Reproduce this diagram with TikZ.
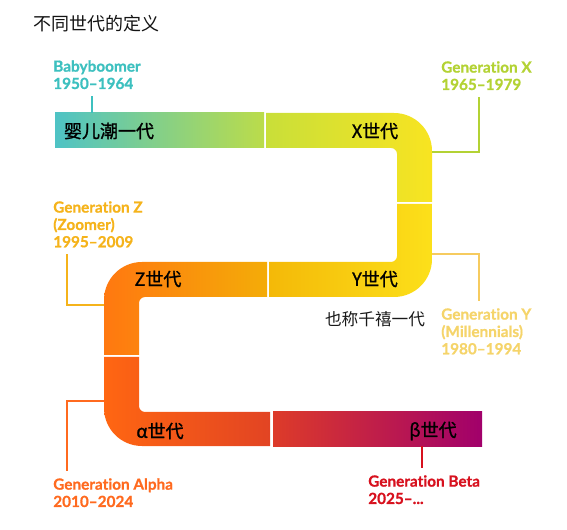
\documentclass[tikz,border=0pt]{standalone}
\usepackage{fontspec}
\setmainfont{Lato}[Ligatures=NoCommon, BoldFeatures={FakeBold=0.8}]
\newfontfamily\cjk{Noto Sans CJK SC}
\newfontfamily\cjkmed[FakeBold=1.2]{Noto Sans CJK SC}
\usepackage{tikz}
\usetikzlibrary{calc}
% Balkenfarben (links / rechts)
\definecolor{clrBoomA}{HTML}{4EC3C5}
\definecolor{clrBoomB}{HTML}{BBDC4A}
\definecolor{clrXa}{HTML}{C9DF39}
\definecolor{clrXb}{HTML}{F8E421}
\definecolor{clrYa}{HTML}{F4B908}
\definecolor{clrYb}{HTML}{FCE01A}
\definecolor{clrZa}{HTML}{FF7810}
\definecolor{clrZb}{HTML}{F4AC08}
\definecolor{clrAa}{HTML}{FF6612}
\definecolor{clrAb}{HTML}{E24423}
\definecolor{clrBa}{HTML}{DD3B29}
\definecolor{clrBb}{HTML}{A1006B}
% Textfarben
\definecolor{txtBoom}{HTML}{3DC0BF}
\definecolor{txtX}{HTML}{B3D234}
\definecolor{txtY}{HTML}{F5D46A}
\definecolor{txtZ}{HTML}{F5B31B}
\definecolor{txtA}{HTML}{FF6A1F}
\definecolor{txtB}{HTML}{D7111E}
\tikzset{
  genlabel/.style={anchor=north west, inner sep=0pt, align=left,
    font=\fontsize{11.5}{13}\selectfont\bfseries},
  barlabel/.style={inner sep=0pt, text=black,
    font=\fontsize{13.5}{15}\selectfont\cjkmed},
  note/.style={inner sep=0pt, text=black!90,
    font=\fontsize{12.5}{14}\selectfont\cjk},
  title/.style={anchor=west, inner sep=0pt, text=black!92,
    font=\fontsize{13.5}{15}\selectfont\cjk},
  link/.style={line width=1pt, shorten >=5pt},
}

\begin{document}
\begin{tikzpicture}[x=0.75pt, y=-0.75pt]

\useasboundingbox (0,0) rectangle (567,530);

\def\yTa{113} \def\yTb{148}  % oberer Balken
\def\yMa{262} \def\yMb{297}  % mittlerer Balken
\def\yUa{412} \def\yUb{446}  % unterer Balken
\def\xRa{397} \def\xRb{432}  % rechte Kurve
\def\xLa{104} \def\xLb{139}  % linke Kurve

\node[title] (ttl) at (33,24) {不同世代的定义};

% Band aus sechs Abschnitten, dazwischen schmale weisse Fugen
\shade[left color=clrBoomA, right color=clrBoomB]
  (55,\yTa) rectangle (264,\yTb);
\shade[left color=clrXa, right color=clrXb]
  (266,\yTa) -- (394,\yTa) .. controls (415,\yTa) and (\xRb,130) .. (\xRb,151)
  -- (\xRb,202) -- (\xRa,202) -- (\xRa,154)
  .. controls (\xRa,150.7) and (394.3,\yTb) .. (391,\yTb) -- (266,\yTb) -- cycle;
\shade[left color=clrYa, right color=clrYb]
  (\xRb,204) -- (\xRb,259) .. controls (\xRb,280) and (415,\yMb) .. (394,\yMb)
  -- (269,\yMb) -- (269,\yMa) -- (391,\yMa)
  .. controls (394.3,\yMa) and (\xRa,259.3) .. (\xRa,256) -- (\xRa,204) -- cycle;
\shade[left color=clrZa, right color=clrZb]
  (267,\yMa) -- (142,\yMa) .. controls (121,\yMa) and (\xLa,279) .. (\xLa,300)
  -- (\xLa,355) -- (\xLb,355) -- (\xLb,303)
  .. controls (\xLb,299.7) and (141.7,\yMb) .. (145,\yMb) -- (267,\yMb) -- cycle;
\shade[left color=clrAa, right color=clrAb]
  (\xLa,357) -- (\xLa,408) .. controls (\xLa,429) and (121,\yUb) .. (142,\yUb)
  -- (270,\yUb) -- (270,\yUa) -- (145,\yUa)
  .. controls (141.7,\yUa) and (\xLb,409.3) .. (\xLb,406) -- (\xLb,357) -- cycle;
\shade[left color=clrBa, right color=clrBb]
  (273,\yUa) rectangle (482,\yUb);

\node[barlabel] (tBoom) at (109,131) {婴儿潮一代};
\node[barlabel] (tX) at (375,131) {X世代};
\node[barlabel] (tY) at (375,279) {Y世代};
\node[barlabel] (tZ) at (158,279) {Z世代};
\node[barlabel] (tA) at (160,431) {α世代};
\node[barlabel] (tB) at (433,431) {β世代};
\node[note] (mill) at (375,319) {也称千禧一代};

% Beschriftungen
\node[genlabel, text=txtBoom] (bb) at (53,60) {Babyboomer\\1950–1964};
\node[genlabel, text=txtX] (genX) at (441,61) {Generation X\\1965–1979};
\node[genlabel, text=txtY] (genY) at (441,308)
  {Generation Y\\(Millennials)\\1980–1994};
\node[genlabel, text=txtZ] (genZ) at (53,201)
  {Generation Z\\(Zoomer)\\1995–2009};
\node[genlabel, text=txtA] (genA) at (53,478) {Generation Alpha\\2010–2024};
\node[genlabel, text=txtB] (genB) at (368,475) {Generation Beta\\2025–...};

% Andockpunkte am Band
\coordinate (pBB) at (92,\yTa);
\coordinate (pX) at (\xRb,152);
\coordinate (pY) at (\xRb,254);
\coordinate (pZ) at (\xLa,305);
\coordinate (pA) at (\xLa,401);
\coordinate (pB) at (422,\yUb);

\draw[link, txtBoom] (pBB) -- (pBB |- bb.south);
\draw[link, txtX] (pX) -| ($(genX.south west)+(38,0)$);
\draw[link, txtY!90!orange] (pY) -| ($(genY.north west)+(38,0)$);
\draw[link, txtZ] (pZ) -| ($(genZ.south west)+(14,0)$);
\draw[link, txtA] (pA) -| ($(genA.north west)+(14,0)$);
\draw[link, txtB] (pB) -- (pB |- genB.north);

\end{tikzpicture}
\end{document}
